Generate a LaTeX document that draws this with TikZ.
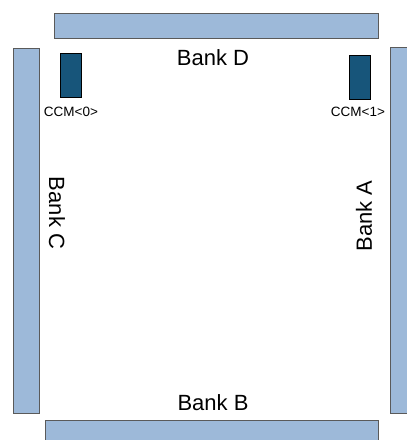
\documentclass[tikz,border=0pt]{standalone}
\usepackage{fontspec}
\setmainfont{Liberation Sans}
\usetikzlibrary{
    positioning,
    calc
}
\definecolor{bankblue}{HTML}{9DB9D9}
\definecolor{bankedge}{HTML}{5A5A5A}
\definecolor{ccmblue}{HTML}{17557A}
\tikzset {
    bank/.style = {rectangle, draw = bankedge, fill = bankblue, line width = 0.9pt, inner sep = 0pt},
    ccm/.style = {rectangle, draw = black, fill = ccmblue, line width = 0.8pt, inner sep = 0pt,
        minimum width = 21pt, minimum height = 44pt},
    banklabel/.style = {inner sep = 0pt, font = \fontsize{22}{22}\selectfont},
    ccmlabel/.style = {inner sep = 0pt, font = \fontsize{13.5}{13.5}\selectfont}
}
\begin{document}
\begin{tikzpicture}[x = 1pt, y = -1pt]
            \useasboundingbox (0, 0) rectangle (407, 440);
            \node (bankD) [bank, minimum width = 324pt, minimum height = 25pt] at (216, 25.5) {};
            \node (bankC) [bank, minimum width = 26pt, minimum height = 365pt] at (26, 230.5) {};
            \node (bankA) [bank, minimum width = 26pt, minimum height = 366pt] at (403, 230) {};
            \node (bankB) [bank, minimum width = 333pt, minimum height = 26pt] at (211.5, 433) {};
            \node (ccm0) [ccm] at (70.5, 75) {};
            \node (ccm1) [ccm] at (359.5, 77) {};
            \node (lblD) [banklabel] at (213, 57.5) {Bank D};
            \node (lblB) [banklabel] at (213, 402.5) {Bank B};
            \node (lblC) [banklabel, rotate = -90] at (57, 213) {Bank C};
            \node (lblA) [banklabel, rotate = 90] at (364, 216) {Bank A};
            \node (lbl0) [ccmlabel] at (71, 112) {CCM<0>};
            \node (lbl1) [ccmlabel] at (358, 112) {CCM<1>};
        \end{tikzpicture}
\end{document}
